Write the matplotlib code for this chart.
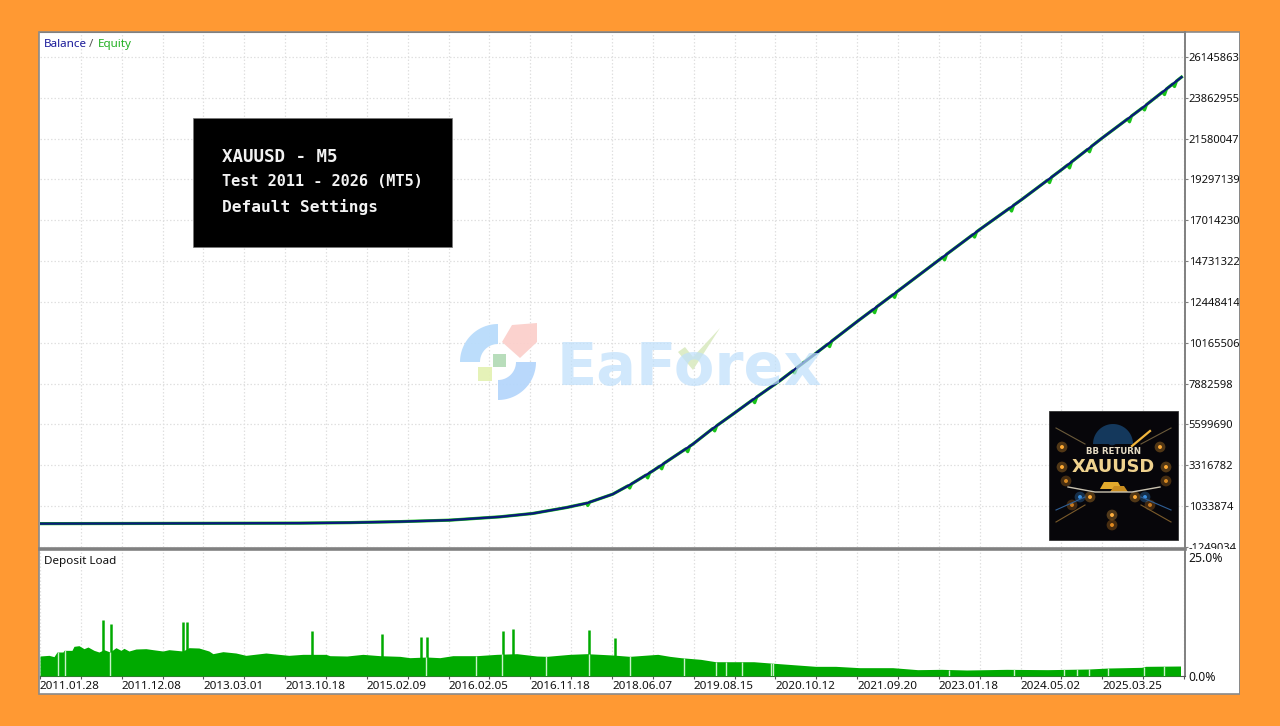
import numpy as np
import matplotlib
matplotlib.use("Agg")
import matplotlib.pyplot as plt
from matplotlib.patches import Rectangle, Polygon

plt.rcParams['font.family'] = ['Noto Sans', 'DejaVu Sans']

# ---------- data ----------
date_labels = ["2011.01.28", "2011.12.08", "2013.03.01", "2013.10.18", "2015.02.09",
               "2016.02.05", "2016.11.18", "2018.06.07", "2019.08.15", "2020.10.12",
               "2021.09.20", "2023.01.18", "2024.05.02", "2025.03.25"]
y_ticks = [-1249034, 1033874, 3316782, 5599690, 7882598, 10165506, 12448414,
           14731322, 17014230, 19297139, 21580047, 23862955, 26145863]

bal_x = [0, 260, 310, 360, 410, 460, 493, 527, 547, 573, 593, 613, 633, 653, 673, 693, 713,
         740, 777, 818, 858, 899, 940, 982, 1022, 1063, 1103, 1142]
balance = [57e3, 85e3, 113e3, 169e3, 252e3, 437e3, 626e3, 961e3, 1.201e6, 1.704e6, 2.32e6,
           3.004e6, 3.752e6, 4.495e6, 5.371e6, 6.169e6, 6.98e6, 8.039e6, 9.613e6, 11.377e6,
           13.051e6, 14.781e6, 16.495e6, 18.170e6, 19.844e6, 21.630e6, 23.305e6, 25.019e6]
eq_dip_x = [548, 590, 608, 622, 648, 675, 715, 755, 790, 835, 855, 905, 935, 972, 1010, 1030,
            1050, 1090, 1105, 1125, 1135]
eq_dip = [150e3, 180e3, 220e3, 220e3, 230e3, 210e3, 240e3, 200e3, 220e3, 240e3, 220e3, 230e3,
          210e3, 240e3, 220e3, 250e3, 220e3, 240e3, 210e3, 230e3, 220e3]

load_x = [0, 9, 14, 17, 23, 24, 32, 34, 39, 44, 48, 54, 59, 64, 70, 76, 81, 84, 89, 96, 106,
          113, 123, 129, 143, 149, 159, 169, 173, 183, 196, 206, 226, 239, 249, 263, 286,
          290, 307, 323, 340, 360, 370, 387, 400, 413, 437, 457, 477, 497, 507, 530, 547,
          573, 590, 618, 630, 641, 661, 676, 714, 735, 776, 796, 820, 853, 878, 902, 927,
          967, 1008, 1049, 1069, 1102, 1106, 1141]
load = [4.2, 4.34, 4.06, 5.04, 5.04, 5.39, 5.39, 6.23, 6.37, 5.74, 6.09, 5.39, 5.04, 5.53,
        5.04, 5.95, 5.39, 5.81, 5.25, 5.67, 5.74, 5.53, 5.25, 5.53, 5.25, 5.95, 5.88, 5.25,
        4.69, 5.11, 4.83, 4.34, 4.83, 4.55, 4.34, 4.55, 4.55, 4.27, 4.2, 4.55, 4.27, 4.13,
        3.85, 3.99, 3.85, 4.27, 4.27, 4.55, 4.69, 4.2, 4.13, 4.55, 4.69, 4.41, 4.13, 4.55,
        4.13, 3.85, 3.5, 3.0, 3.0, 2.66, 2.03, 2.03, 1.75, 1.75, 1.33, 1.4, 1.26, 1.4, 1.33,
        1.47, 1.68, 1.82, 2.03, 2.1]
spike_x = [63, 71, 143, 147, 272, 342, 381, 387, 463, 473, 549, 575]
spike_h = [11.76, 10.9, 11.4, 11.3, 9.4, 8.75, 8.1, 8.26, 9.4, 9.8, 9.66, 7.9]
gap_x = [18, 25, 70, 386, 436, 462, 506, 549, 590, 644, 676, 686, 702, 731, 733,
         909, 974, 1024, 1037, 1049, 1068, 1104, 1124]

# ---------- layout helpers ----------
W, H = 1280, 726
def rect(l, t, r, b):
    return [l / W, 1 - b / H, (r - l) / W, (b - t) / H]

ORANGE = "#FF9933"
GRID = "#e0e0e0"
AX = "#808080"
X_MAX = 1145
STEP = 81.75
UNIT = 2282908
PX_PER_TICK = 40.9

fig = plt.figure(figsize=(12.8, 7.26), dpi=100, facecolor=ORANGE)
fig.add_artist(Rectangle((39 / W, 1 - 694 / H), 1201 / W, 662 / H, transform=fig.transFigure,
                         fc="white", ec="#8a8a8a", lw=1.2, zorder=-1))

# ---------- main panel ----------
ax = fig.add_axes(rect(40, 32, 1184.5, 547), zorder=1)
y_low = y_ticks[0] + UNIT * (548 - 547) / PX_PER_TICK
y_high = y_ticks[-1] + UNIT * (57 - 32) / PX_PER_TICK
ax.set_xlim(0, X_MAX)
ax.set_ylim(y_low, y_high)
ax.patch.set_alpha(0)
minor = np.arange(0, X_MAX, STEP / 2)
ax.set_xticks(minor[1:])
ax.tick_params(axis='x', length=0, labelbottom=False)
ax.set_yticks(y_ticks)
ax.set_yticklabels([str(v) for v in y_ticks], fontsize=8.0, color="#111111")
ax.yaxis.tick_right()
ax.tick_params(axis='y', length=2, width=0.8, color=AX, pad=1)
ax.grid(True, color=GRID, lw=0.9, ls=(0, (1.2, 1.6)))
ax.set_axisbelow(True)
for s in ax.spines.values():
    s.set_visible(False)
ax.spines['right'].set_visible(True)
ax.spines['right'].set_color(AX)
ax.spines['right'].set_linewidth(1.4)
ax.spines['top'].set_visible(True)
ax.spines['top'].set_color(AX)

bx = np.array(bal_x, float)
bal = np.array(balance, float)
dx = np.array(eq_dip_x, float)
ex = np.sort(np.r_[bx, dx, dx - 2, dx + 2])
eq = np.interp(ex, bx, bal) - np.interp(ex, dx, eq_dip, left=0, right=0) * np.isin(ex, dx)
ax.plot(ex, eq, color="#19c319", lw=2.3, solid_joinstyle='round', zorder=3)
ax.plot(bx, bal, color="#0a1a7a", lw=1.7, zorder=4)

# white and orange masks so the last tick label is cut as in the terminal window
fig.add_artist(Rectangle((1185.5 / W, 1 - 676 / H), 54 / W, 127.5 / H, transform=fig.transFigure,
                         fc="white", ec="none", zorder=2))
fig.add_artist(Rectangle((1240 / W, 0), 40 / W, 1, transform=fig.transFigure,
                         fc=ORANGE, ec="none", zorder=2))
fig.add_artist(Rectangle((1239 / W, 1 - 694 / H), 1.2 / W, 662 / H, transform=fig.transFigure,
                         fc="#8a8a8a", ec="none", zorder=2))

# ---------- deposit load panel ----------
lx = fig.add_axes(rect(40, 549, 1184.5, 676), zorder=3)
pct_per_px = 25.0 / 119
lx.set_xlim(0, X_MAX)
lx.set_ylim(0, 127 * pct_per_px)
lx.patch.set_alpha(0)
lx.set_xticks(minor)
lx.set_xticklabels([""] * len(minor))
lx.tick_params(axis='x', length=2, width=0.8, color="#555555")
lx.set_yticks([0, 25])
lx.set_yticklabels(["0.0%", "25.0%"], fontsize=8.8, color="#111111")
lx.yaxis.tick_right()
lx.tick_params(axis='y', length=0, pad=3)
lx.grid(True, axis='x', color=GRID, lw=0.9, ls=(0, (1.2, 1.6)))
lx.set_axisbelow(True)
for s in lx.spines.values():
    s.set_visible(False)
lx.spines['right'].set_visible(True)
lx.spines['right'].set_color(AX)
lx.spines['right'].set_linewidth(1.4)
lx.spines['bottom'].set_visible(True)
lx.spines['bottom'].set_color("#555555")
lx.spines['top'].set_visible(True)
lx.spines['top'].set_color(AX)
lx.spines['top'].set_linewidth(2.6)

GREEN = "#00AA00"
lx.fill_between(load_x, load, 0, color=GREEN, lw=0, zorder=3)
lx.vlines(spike_x, 0, spike_h, color=GREEN, lw=1.8, zorder=3)
lx.vlines(gap_x, 0, np.interp(gap_x, load_x, load), color="#c8f2c8", lw=1.0, zorder=4)
for lab, pos in zip(date_labels, np.arange(len(date_labels)) * STEP):
    lx.text(pos, -10.5 * pct_per_px, lab, fontsize=8.4, color="#111111", ha='left', va='center',
            clip_on=False)

# ---------- overlays in image pixels ----------
ov = fig.add_axes([0, 0, 1, 1], zorder=5)
ov.set_xlim(0, W)
ov.set_ylim(H, 0)
ov.axis('off')

ov.text(44, 47, "Balance", color="#1a1a9a", fontsize=8.4, va='baseline', ha='left')
ov.text(89, 47, "/", color="#555555", fontsize=8.4, va='baseline', ha='left')
ov.text(98, 47, "Equity", color="#22b022", fontsize=8.4, va='baseline', ha='left')
ov.text(44, 564, "Deposit Load", color="#111111", fontsize=8.4, va='baseline', ha='left')

# caption box
ov.add_patch(Rectangle((193, 118), 259, 129, fc="black", ec="#777777", lw=0.5))
cap = dict(color="#f2f2f2", family="DejaVu Sans Mono", fontweight="bold", va='center', ha='left')
ov.text(222, 157, "XAUUSD - M5", fontsize=12.6, **cap)
ov.text(222, 182, "Test 2011 - 2026 (MT5)", fontsize=11.0, **cap)
ov.text(222, 207, "Default Settings", fontsize=11.6, **cap)

# watermark
def ring(cx, cy, r0, r1, a0, a1):
    t = np.radians(np.linspace(a0, a1, 30))
    o = np.c_[cx + r1 * np.cos(t), cy + r1 * np.sin(t)]
    i = np.c_[cx + r0 * np.cos(t[::-1]), cy + r0 * np.sin(t[::-1])]
    return np.r_[o, i]

ov.add_patch(Polygon(ring(498, 362, 18, 38, 180, 270), fc="#b9dcfb", ec="none", alpha=.95))
ov.add_patch(Polygon(ring(498, 362, 18, 38, 0, 90), fc="#b5d6fb", ec="none", alpha=.95))
ov.add_patch(Polygon([(512, 325), (537, 323), (537, 342), (520, 358), (502, 342)],
                     fc="#fbd0cc", ec="none", alpha=.95))
ov.add_patch(Rectangle((493, 354), 13, 13, fc="#b4dcb8", ec="none", alpha=.95))
ov.add_patch(Rectangle((478, 367), 14, 14, fc="#e4f2b4", ec="none", alpha=.95))
ov.text(557, 385, "EaForex", fontsize=42.5, fontweight="bold", family="DejaVu Sans",
        color="#c0e0fb", alpha=.72, va='baseline', ha='left')
ov.add_patch(Polygon([(678, 352), (685, 347), (693, 357), (720, 328), (693, 370)],
                     fc="#dcebc4", ec="none", alpha=.95))

# product badge
ov.add_patch(Rectangle((1049, 411), 129, 129, fc="#07060a", ec="#333333", lw=0.6))
glow_x = [1062, 1062, 1066, 1160, 1166, 1166, 1112, 1072, 1150, 1080, 1145, 1090, 1135, 1112, 1112]
glow_y = [447, 467, 481, 447, 467, 481, 515, 505, 505, 497, 497, 497, 497, 440, 525]
glow_c = ["#ffaa33", "#ffaa33", "#d88a22", "#ffaa33", "#ffaa33", "#d88a22", "#ffb040", "#c87a20",
          "#c87a20", "#3a8fe0", "#3a8fe0", "#ffaa33", "#ffaa33", "#3a8fe0", "#e08a20"]
ov.scatter(glow_x, glow_y, s=60, c=glow_c, alpha=.3, linewidths=0)
ov.scatter(glow_x, glow_y, s=8, c=glow_c, linewidths=0)
ov.add_patch(Polygon(ring(1113, 444, 0, 20, 180, 360), fc="#14385c", ec="none"))
ov.plot([1132, 1150], [446, 431], color="#f2b63c", lw=1.6)
for sx, ex_ in ((1056, 1085), (1171, 1141)):
    ov.plot([sx, ex_], [428, 444], color="#6b5a3a", lw=.8)
    ov.plot([sx, ex_], [522, 505], color="#7a5a2a", lw=.8)
    ov.plot([sx, ex_], [510, 497], color="#2f5f96", lw=.8)
ov.plot([1068, 1095, 1132, 1160], [487, 492, 492, 487], color="#c9c2b0", lw=1)
ov.add_patch(Polygon([(1104, 482), (1118, 482), (1122, 489), (1100, 489)], fc="#e2a92c", ec="none"))
ov.add_patch(Polygon([(1114, 486), (1124, 486), (1128, 492), (1110, 492)], fc="#c98d20", ec="none"))
ov.text(1113, 452, "BB RETURN", color="#e6dcc4", fontsize=6.2, fontweight="bold",
        family="DejaVu Sans", ha='center', va='center')
ov.text(1113, 467.5, "XAUUSD", color="#efd28e", fontsize=12.8, fontweight="bold",
        family="DejaVu Sans", ha='center', va='center')

fig.savefig("out.png", dpi=100, facecolor=ORANGE)
